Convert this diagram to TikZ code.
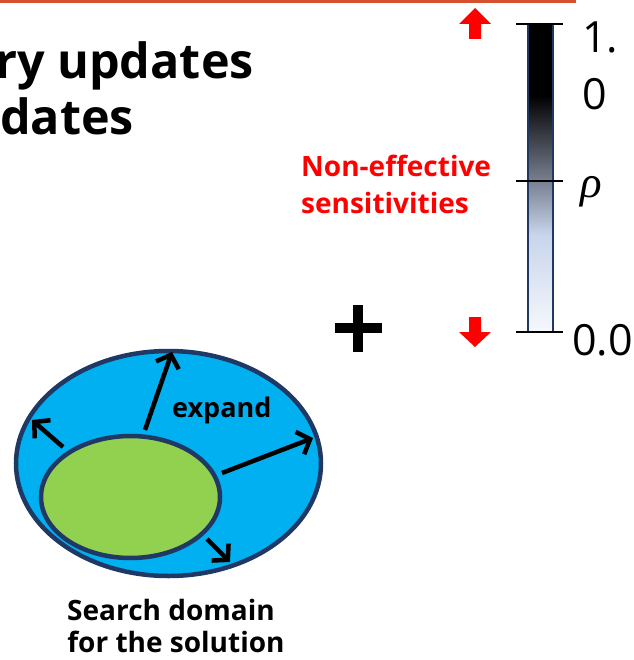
\documentclass[tikz,border=0pt]{standalone}
\usepackage{fontspec}
\setmainfont{Open Sans}
\newfontfamily\rhofont{Liberation Serif}
\usetikzlibrary{arrows.meta}
\definecolor{topline}{RGB}{213,80,45}
\definecolor{cyanfill}{RGB}{0,176,240}
\definecolor{greenfill}{RGB}{146,208,80}
\definecolor{navy}{RGB}{31,56,100}
\definecolor{redtxt}{RGB}{255,0,0}
\definecolor{gA}{RGB}{120,128,145}
\definecolor{gB}{RGB}{200,213,235}
\definecolor{gC}{RGB}{246,248,252}
\tikzset{
  titletxt/.style={inner sep=0pt, font=\fontsize{48.5}{48.5}\selectfont\bfseries},
  redlbl/.style={inner sep=0pt, text=redtxt, font=\fontsize{28}{28}\selectfont\bfseries},
  blacklbl/.style={inner sep=0pt, font=\fontsize{28}{28}\selectfont\bfseries},
  numlbl/.style={inner sep=0pt, font=\fontsize{43}{43}\selectfont},
  tickline/.style={line width=1.5pt, black},
  redarrow/.style={fill=redtxt, draw=none},
  expandarrow/.style={line width=4.5pt, -{Straight Barb[length=11pt,width=24pt]}},
  domainshape/.style={line width=4.5pt, draw=navy}
}
\begin{document}
\begin{tikzpicture}[x=1pt,y=-1pt]
\useasboundingbox (0,0) rectangle (633,660);
% top rule
\draw[topline, line width=3pt] (0,1.5) -- (576,1.5);
% title fragments
\node[titletxt, anchor=base east] (t1) at (254,79) {ry updates};
\node[titletxt, anchor=base west] (t2) at (0,135) {dates};
% red label
\node[redlbl, anchor=base west] (r1) at (301,177) {Non-effective};
\node[redlbl, anchor=base west] (r2) at (301,213) {sensitivities};
% colour bar
\fill[black] (528,24) rectangle (553,95);
\shade[top color=black, bottom color=gA] (528,95) rectangle (553,181);
\shade[top color=gA, bottom color=gB] (528,181) rectangle (553,235);
\shade[top color=gB, bottom color=gC] (528,235) rectangle (553,332);
\draw[navy, line width=1.2pt] (528,24) rectangle (553,332);
\draw[tickline] (516,24) -- (563,24);
\draw[tickline] (516,181) -- (563,181);
\draw[tickline] (516,332) -- (563,332);
\node[numlbl, anchor=base west] (n1) at (582,53) {1.};
\node[numlbl, anchor=base west] (n2) at (582,110) {0};
\node[numlbl, anchor=base west] (n3) at (572,355) {0.0};
\node[inner sep=0pt, anchor=base west, font=\fontsize{45}{45}\selectfont\rhofont\itshape] (rho) at (580,197) {ρ};
% red arrows
\fill[redarrow] (475,8) -- (491,24) -- (481,24) -- (481,39) -- (469,39) -- (469,24) -- (459,24) -- cycle;
\fill[redarrow] (475,347) -- (491,332) -- (481,332) -- (481,317) -- (469,317) -- (469,332) -- (459,332) -- cycle;
% plus
\fill[black] (335,323) rectangle (382,333);
\fill[black] (353,305) rectangle (363,352);
% search domain
\filldraw[domainshape, fill=cyanfill] (168.5,463.5) ellipse [x radius=152.5, y radius=112.5];
\filldraw[domainshape, fill=greenfill] (130.5,497) ellipse [x radius=89.5, y radius=61];
\coordinate (a1s) at (145,430);
\coordinate (a1e) at (172,352);
\coordinate (a2s) at (63,447);
\coordinate (a2e) at (32,420);
\coordinate (a3s) at (222,473);
\coordinate (a3e) at (313,438);
\coordinate (a4s) at (207,539);
\coordinate (a4e) at (230,562);
\draw[expandarrow] (a1s) -- (a1e);
\draw[expandarrow] (a2s) -- (a2e);
\draw[expandarrow] (a3s) -- (a3e);
\draw[expandarrow] (a4s) -- (a4e);
\node[inner sep=0pt, anchor=base west, font=\fontsize{27}{27}\selectfont\bfseries] (exp) at (172,417) {expand};
\node[blacklbl, anchor=base] (s1) at (171,620) {Search domain};
\node[blacklbl, anchor=base] (s2) at (176,652) {for the solution};
\end{tikzpicture}
\end{document}
